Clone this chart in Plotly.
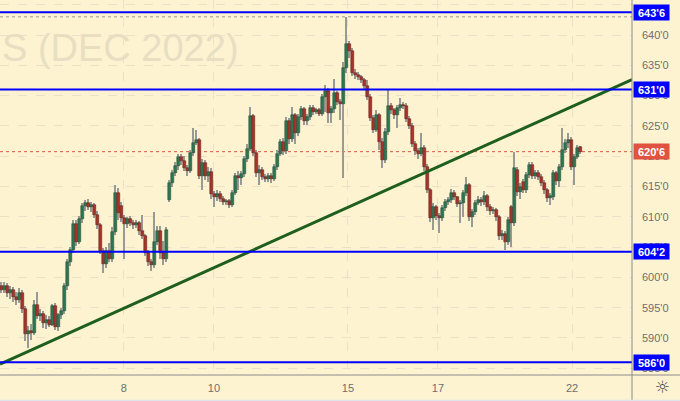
import plotly.graph_objects as go

# ---------------- data ----------------
opens = [598.5,598.0,598.6,597.4,597.9,596.8,596.2,597.5,594.8,590.6,591.2,590.8,595.5,593.6,594.0,592.5,593.0,592.2,595.2,591.8,
593.8,594.5,598.5,602.5,604.5,608.8,605.8,609.6,611.8,612.3,611.6,612.0,610.3,608.6,604.3,602.2,604.3,603.0,607.5,614.0,
611.8,609.8,608.8,609.6,609.0,608.6,609.0,607.6,606.8,604.0,602.5,602.0,605.8,607.6,604.0,603.0,612.8,615.5,617.3,618.4,
619.8,619.2,618.0,617.5,620.5,622.2,622.6,616.8,618.8,616.8,617.4,613.8,613.2,613.8,612.9,612.5,612.6,611.9,614.0,616.8,
616.4,617.0,619.5,621.2,626.6,620.6,617.2,617.8,616.5,616.3,616.8,616.2,618.2,620.4,622.3,620.8,625.8,622.8,626.8,623.8,
626.5,627.8,625.8,626.5,628.0,627.3,627.6,627.0,629.7,630.8,627.2,627.8,630.4,629.0,628.6,634.5,638.5,637.3,633.8,633.4,
633.0,632.5,631.6,629.8,626.3,624.4,626.8,622.4,619.3,624.0,628.3,627.6,626.8,627.9,628.5,628.3,626.2,625.0,622.0,620.8,
620.4,621.4,618.2,614.4,609.8,611.6,610.1,609.8,611.5,612.4,612.8,614.0,613.2,612.1,612.3,614.0,615.2,609.9,610.8,612.3,
612.8,612.4,613.4,611.6,610.9,611.1,609.9,606.8,607.2,605.8,611.6,609.0,617.7,614.1,615.7,614.4,616.9,618.5,616.8,617.2,
616.6,615.6,614.4,613.1,613.2,617.2,615.9,618.2,621.0,622.2,622.7,618.3,619.9,621.5]
highs = [599.3,599.2,599.0,598.6,598.4,597.6,598.3,598.0,595.3,592.0,592.3,596.2,597.6,594.8,594.5,593.8,593.6,595.6,595.7,594.2,
595.0,599.0,603.0,605.0,609.5,609.5,610.2,612.3,612.8,612.9,612.5,612.3,611.0,609.0,604.8,605.0,605.6,608.3,615.2,614.8,
612.5,610.3,610.0,610.2,609.4,609.5,609.3,610.3,607.2,604.5,603.0,610.8,608.5,608.4,606.0,608.3,616.0,617.8,619.0,620.4,
620.3,620.0,618.6,621.0,624.6,624.4,623.0,619.5,619.3,618.2,618.0,614.3,614.5,614.3,613.4,613.0,613.0,614.5,617.3,617.5,
617.6,620.0,622.0,628.1,627.0,621.0,618.5,618.3,617.0,617.3,617.2,618.7,621.0,622.8,623.0,626.5,626.3,628.2,627.2,627.0,
628.3,628.2,627.0,628.5,628.4,628.0,628.0,630.2,631.7,631.2,628.3,632.8,630.8,629.5,635.5,643.0,639.0,637.8,634.4,633.9,
633.4,632.9,632.6,630.3,626.8,627.6,627.2,623.0,624.6,630.9,628.8,628.0,628.4,629.6,629.0,628.8,626.7,625.5,622.5,621.3,
623.8,621.8,618.7,614.8,612.2,612.0,610.6,612.0,612.9,613.3,614.6,614.5,613.5,612.8,614.5,616.6,615.6,611.3,612.8,613.4,
613.2,614.2,613.8,612.1,611.6,611.5,610.3,607.8,607.6,610.0,612.0,620.7,618.3,615.6,616.2,617.4,619.0,619.0,617.7,617.8,
617.0,616.0,614.8,614.0,617.8,617.5,618.7,624.6,622.8,623.8,623.2,620.4,621.8,621.7]
lows = [597.5,597.4,596.8,596.5,596.0,595.5,595.8,594.2,589.5,588.3,589.6,590.5,593.2,592.8,591.7,591.5,591.8,591.9,591.3,591.2,
593.2,594.0,598.0,601.8,604.0,605.2,605.5,609.0,611.0,611.2,610.8,609.8,608.0,603.8,600.8,601.6,602.6,602.6,607.0,609.5,
609.2,603.0,608.2,608.5,608.0,608.2,607.0,606.3,603.5,601.8,601.1,601.6,605.3,603.0,602.0,602.5,612.5,615.0,616.8,617.8,
618.5,617.5,616.8,617.2,620.0,621.8,616.2,614.5,616.0,615.8,613.0,611.6,612.6,612.4,612.0,612.0,611.4,611.6,613.6,614.5,
615.3,616.5,619.0,620.8,620.0,616.6,615.3,616.0,615.7,615.8,615.6,615.9,617.8,620.0,620.2,620.3,622.0,622.4,622.0,623.3,
626.0,625.2,625.2,626.0,626.8,626.9,626.6,626.7,627.3,625.4,625.5,627.2,628.4,626.0,616.4,633.8,636.2,633.2,632.8,632.5,
632.0,631.0,629.2,625.8,623.8,624.0,621.0,618.0,618.8,623.5,627.0,626.2,624.6,627.4,627.8,625.7,624.5,621.5,620.2,619.6,
620.0,617.6,614.0,609.2,607.8,609.5,607.3,609.3,611.0,612.0,612.3,612.8,611.6,609.0,610.0,613.5,609.3,608.3,610.3,612.0,
611.8,612.0,611.0,610.3,610.5,609.3,606.2,606.2,604.5,605.3,605.0,608.5,613.5,613.0,613.9,614.0,616.4,616.3,616.3,616.1,
615.1,613.8,612.5,612.0,612.8,615.3,615.0,617.8,620.5,621.4,617.8,615.2,619.5,620.4]
closes = [598.0,598.6,597.4,597.9,596.8,596.2,597.5,594.8,590.6,591.2,590.8,595.5,593.6,594.0,592.5,593.0,592.2,595.2,591.8,593.8,
594.5,598.5,602.5,604.5,608.8,605.8,609.6,611.8,612.3,611.6,612.0,610.3,608.6,604.3,602.2,604.3,603.0,607.5,614.0,610.6,
609.8,608.8,609.6,609.0,608.6,609.0,607.6,606.8,604.0,602.5,602.0,605.8,607.6,604.0,603.0,607.8,615.5,617.3,618.4,619.8,
619.2,618.0,617.5,620.5,622.2,622.6,616.8,618.8,616.8,617.4,613.8,613.2,613.8,612.9,612.5,612.6,611.9,614.0,616.8,616.4,
617.0,619.5,621.2,626.6,620.6,617.2,617.8,616.5,616.3,616.8,616.2,618.2,620.4,622.3,620.8,625.8,622.8,626.8,623.8,626.5,
627.8,625.8,626.5,628.0,627.3,627.6,627.0,629.7,630.8,627.2,627.8,630.4,629.0,628.6,634.5,638.5,637.3,633.8,633.4,633.0,
632.5,631.6,629.8,626.3,624.4,626.8,622.4,619.3,624.0,628.3,627.6,626.8,627.9,628.5,628.3,626.2,625.0,622.0,620.8,620.4,
621.4,618.2,614.4,609.8,611.6,610.1,609.8,611.5,612.4,612.8,614.0,613.2,612.1,612.3,614.0,615.2,609.9,610.8,612.3,612.8,
612.4,613.4,611.6,610.9,611.1,609.9,606.8,607.2,605.8,609.5,609.0,618.0,614.1,615.0,614.4,616.9,618.5,616.8,617.2,616.6,
615.6,614.4,613.1,613.5,617.2,615.9,618.2,621.0,622.2,622.7,618.3,619.9,621.3,620.75]

day_labels = ["8", "10", "15", "17", "22"]
day_start_index = [40.8, 70.8, 115.5, 145.5, 190.2]   # candle index where each day begins

price_ticks = [585, 590, 595, 600, 605, 610, 615, 620, 625, 630, 635, 640, 645]
level_prices = [643.75, 631.0, 604.25, 586.0]
level_labels = ["643'6", "631'0", "604'2", "586'0"]
last_price = 620.75
last_label = "620'6"
trend_index = [-0.5, 210.17]
trend_price = [585.7, 632.66]

# ---------------- styles ----------------
BG = "#fdf3d1"
GRID = "#e9e1c9"
AXIS = "#8a8a8a"
TXT = "#6e6e6e"
UP = "#2f7552"
DOWN = "#a5342b"
WICK = "#9a9a94"
BLUE = "#0000ff"

n = len(closes)
idx = list(range(n))
body_base = [min(o, c) for o, c in zip(opens, closes)]
body_h = [max(abs(c - o), 0.18) for o, c in zip(opens, closes)]
body_col = [UP if c >= o else DOWN for o, c in zip(opens, closes)]
body_line = ["#1d4a34" if c >= o else "#5e1a14" for o, c in zip(opens, closes)]

fig = go.Figure()
fig.add_trace(go.Bar(x=idx, y=[h - l for h, l in zip(highs, lows)], base=lows,
                     width=0.34, marker=dict(color=WICK, line=dict(width=0)),
                     hoverinfo="skip", showlegend=False))
fig.add_trace(go.Bar(x=idx, y=body_h, base=body_base, width=0.75,
                     marker=dict(color=body_col, line=dict(color=body_line, width=0.5)),
                     hoverinfo="skip", showlegend=False))
fig.add_trace(go.Scatter(x=trend_index, y=trend_price, mode="lines",
                         line=dict(color="#1e5f1e", width=3), hoverinfo="skip", showlegend=False))

shapes = []
for p in level_prices:
    shapes.append(dict(type="line", xref="paper", yref="y", x0=0, x1=1, y0=p, y1=p,
                       line=dict(color=BLUE, width=2), layer="above"))
# last price (red dotted) and visible high (grey dotted)
shapes.append(dict(type="line", xref="paper", yref="y", x0=0, x1=1, y0=last_price, y1=last_price,
                   line=dict(color="#e0533f", width=1, dash="dot"), layer="below"))
hi = max(highs)
shapes.append(dict(type="line", xref="paper", yref="y", x0=0, x1=1, y0=hi, y1=hi,
                   line=dict(color="#9a9a9a", width=1, dash="dot"), layer="below"))
# panel separators
shapes.append(dict(type="line", xref="paper", yref="paper", x0=1, x1=1, y0=-0.07, y1=1.0,
                   line=dict(color=AXIS, width=1)))
shapes.append(dict(type="line", xref="paper", yref="paper", x0=0, x1=1.076, y0=0, y1=0,
                   line=dict(color=AXIS, width=1)))
shapes.append(dict(type="rect", xref="paper", yref="paper", x0=0, x1=1.08, y0=-0.071, y1=-0.066,
                   line=dict(width=0), fillcolor="#dfe3ea"))

annotations = [dict(text="S (DEC 2022)", xref="paper", yref="paper", x=0.0, y=0.872,
                    xanchor="left", yanchor="middle", showarrow=False,
                    font=dict(family="Liberation Sans", size=38, color="#e8dfc2"))]
for p, t in zip(level_prices, level_labels):
    annotations.append(dict(text="<b>%s</b>" % t, xref="paper", yref="y", x=1.0015, y=p,
                            xanchor="left", yanchor="middle", showarrow=False,
                            bgcolor=BLUE, width=33, height=13, borderpad=1,
                            font=dict(family="Liberation Sans", size=11, color="white")))
annotations.append(dict(text="<b>%s</b>" % last_label, xref="paper", yref="y", x=1.0015, y=last_price,
                        xanchor="left", yanchor="middle", showarrow=False,
                        bgcolor="#e0533f", width=33, height=13, borderpad=1,
                        font=dict(family="Liberation Sans", size=11, color="white")))
annotations.append(dict(text="☼", xref="paper", yref="paper", x=1.048, y=-0.032,
                        xanchor="center", yanchor="middle", showarrow=False,
                        font=dict(family="DejaVu Sans", size=17, color="#4a4a4a")))

fig.update_layout(
    width=680, height=401,
    margin=dict(l=0, r=48, t=0, b=26, autoexpand=False),
    paper_bgcolor=BG, plot_bgcolor=BG,
    barmode="overlay", bargap=0,
    shapes=shapes, annotations=annotations,
    font=dict(family="Liberation Sans", size=11, color=TXT),
    xaxis=dict(range=[-0.5, 210.17], tickvals=day_start_index, ticktext=day_labels,
               showgrid=True, gridcolor=GRID, griddash="dash", gridwidth=1,
               zeroline=False, showline=False, ticks="", ticklabelstandoff=5,
               automargin=False,
               tickfont=dict(size=11, color=TXT), fixedrange=True),
    yaxis=dict(side="right", range=[583.89, 645.78], tickvals=price_ticks,
               ticktext=["%d'0" % v for v in price_ticks],
               showgrid=True, gridcolor=GRID, griddash="dash", gridwidth=1,
               zeroline=False, showline=False, ticks="", ticklabelstandoff=9,
               automargin=False,
               tickfont=dict(size=11, color=TXT), fixedrange=True),
)

fig.write_html("out.html", config={"displayModeBar": False},
               post_script="document.body.style.margin='0';document.body.style.padding='0';")
